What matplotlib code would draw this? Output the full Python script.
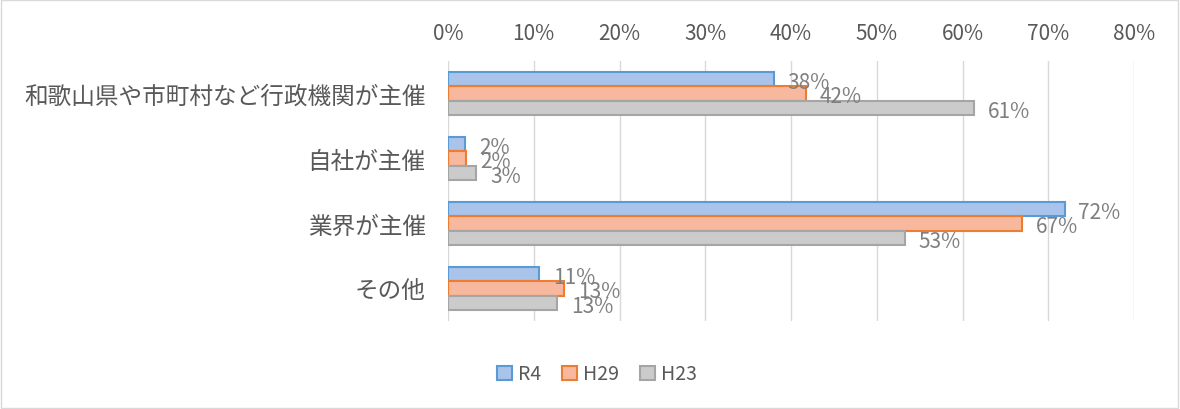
import matplotlib
matplotlib.use("Agg")
import matplotlib.pyplot as plt
import numpy as np
from matplotlib.patches import Patch, Rectangle
from matplotlib.ticker import PercentFormatter

plt.rcParams['font.family'] = ['Noto Sans CJK JP', 'DejaVu Sans']

categories = ['和歌山県や市町村など行政機関が主催', '自社が主催', '業界が主催', 'その他']
series = ['R4', 'H29', 'H23']
r4 = [0.380, 0.020, 0.719, 0.106]
h29 = [0.417, 0.021, 0.669, 0.135]
h23 = [0.613, 0.033, 0.533, 0.127]
labels_r4 = ['38%', '2%', '72%', '11%']
labels_h29 = ['42%', '2%', '67%', '13%']
labels_h23 = ['61%', '3%', '53%', '13%']

fills = ['#A9C3EA', '#F7B89E', '#CBCBCB']
edges = ['#5B9BD5', '#ED7D31', '#A5A5A5']
txt = '#7F7F7F'

fig = plt.figure(figsize=(11.8, 4.1), dpi=100)
ax = fig.add_axes([448/1180, 1 - 322/410, 686/1180, 260/410])

y = np.arange(len(categories))
h = 0.22
for i, (vals, labs) in enumerate(zip([r4, h29, h23], [labels_r4, labels_h29, labels_h23])):
    pos = y + (i - 1) * h
    ax.barh(pos, vals, height=h, color=fills[i], edgecolor=edges[i], linewidth=1.5, zorder=3)
    for p, v, l in zip(pos, vals, labs):
        ax.annotate(l, (v, p), xytext=(10, -2), textcoords='offset points',
                    va='center', ha='left', fontsize=15, color=txt, zorder=4)

ax.set_xlim(0, 0.8)
ax.set_ylim(3.5, -0.5)
ax.set_xticks(np.arange(0, 0.81, 0.1))
ax.xaxis.set_major_formatter(PercentFormatter(1.0, decimals=0))
ax.xaxis.tick_top()
ax.tick_params(axis='x', length=0, labelsize=15, labelcolor='#595959', pad=12)
ax.set_yticks(y)
ax.set_yticklabels(categories)
ax.tick_params(axis='y', length=0, labelsize=17, labelcolor='#595959', pad=16)
ax.grid(axis='x', color='#D9D9D9', linewidth=1, zorder=0)
for s in ax.spines.values():
    s.set_visible(False)

handles = [Patch(facecolor=fills[i], edgecolor=edges[i], linewidth=1.5) for i in range(3)]
fig.legend(handles, series, loc='center', bbox_to_anchor=(597/1180, 1 - 375/410), ncol=3,
           frameon=False, fontsize=14, labelcolor='#595959', handlelength=0.75, handleheight=0.75,
           handletextpad=0.3, columnspacing=1.1)

fig.patches.append(Rectangle((0.001, 0.002), 0.997, 0.996, transform=fig.transFigure,
                             fill=False, edgecolor='#D9D9D9', linewidth=1))

fig.savefig('out.png', dpi=100, facecolor='white')
